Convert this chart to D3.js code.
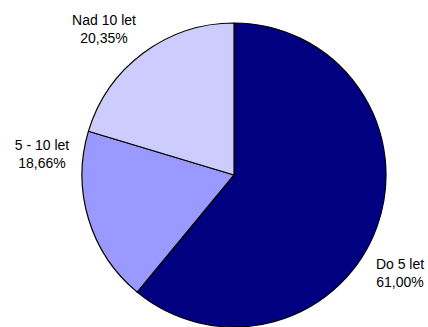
<!DOCTYPE html>
<html>
<head>
<meta charset="utf-8">
<script src="https://cdn.jsdelivr.net/npm/d3@7"></script>
<style>
  html, body { margin: 0; padding: 0; background: #fff; }
  svg { display: block; }
  text { font-family: "Liberation Sans", Arial, sans-serif; fill: #000; }
</style>
</head>
<body>
<svg id="chart" width="428" height="327"></svg>
<script>
// Data
const categories = ["Do 5 let", "5 - 10 let", "Nad 10 let"];
const values = [61.00, 18.66, 20.35];
const valueLabels = ["61,00%", "18,66%", "20,35%"];
const colors = ["#000080", "#9999FF", "#CCCCFF"];

// Layout (label block centres, set by hand as in the original chart)
const W = 428, H = 327;
const cx = 234, cy = 175, R = 152;
const labelPos = [
  { x: 400, y: 268.5 },
  { x: 42,  y: 149.5 },
  { x: 104, y: 24.5 }
];
const fontSize = 14, lineGap = 18.7;

const svg = d3.select("#chart");
const g = svg.append("g").attr("transform", `translate(${cx},${cy})`);

const data = categories.map((c, i) => ({ cat: c, value: values[i], label: valueLabels[i], color: colors[i] }));

const pie = d3.pie().sort(null).value(d => d.value).startAngle(0).endAngle(2 * Math.PI);
const arc = d3.arc().innerRadius(0).outerRadius(R);

g.selectAll("path.slice")
  .data(pie(data))
  .join("path")
  .attr("class", "slice")
  .attr("d", arc)
  .attr("fill", d => d.data.color)
  .attr("stroke", "#000")
  .attr("stroke-width", 1.2)
  .attr("stroke-linejoin", "round");

const lbl = svg.selectAll("text.lbl")
  .data(data)
  .join("text")
  .attr("class", "lbl")
  .attr("text-anchor", "middle")
  .attr("font-size", fontSize)
  .attr("transform", (d, i) => `translate(${labelPos[i].x},${labelPos[i].y})`);

lbl.append("tspan").attr("x", 0).attr("y", 0).text(d => d.cat);
lbl.append("tspan").attr("x", 0).attr("y", lineGap).text(d => d.label);
</script>
</body>
</html>
